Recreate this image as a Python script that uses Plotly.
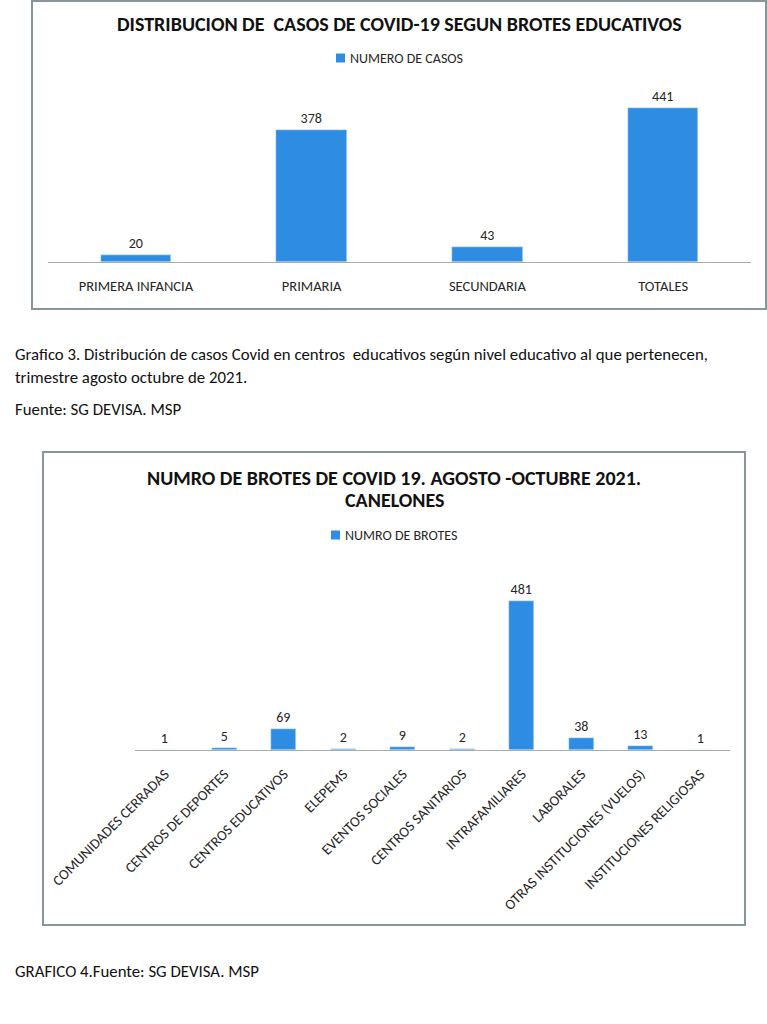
import plotly.graph_objects as go

W, H = 767, 1024

# Chart 1 data
niveles = ["PRIMERA INFANCIA", "PRIMARIA", "SECUNDARIA", "TOTALES"]
casos = [20, 378, 43, 441]

# Chart 2 data
tipos_brote = ["COMUNIDADES CERRADAS", "CENTROS DE DEPORTES", "CENTROS EDUCATIVOS", "ELEPEMS",
               "EVENTOS SOCIALES", "CENTROS SANITARIOS", "INTRAFAMILIARES", "LABORALES",
               "OTRAS INSTITUCIONES (VUELOS)", "INSTITUCIONES RELIGIOSAS"]
brotes = [1, 5, 69, 2, 9, 2, 481, 38, 13, 1]

FONT = "Carlito, 'Liberation Sans Narrow', 'Liberation Sans', sans-serif"
BAR = "#2E8DE3"
TXT = "#262626"
BORDER = "#879797"
AXIS = "#A6ABAB"


def px_x(x):
    return x / W


def px_y(y):
    return 1 - y / H


fig = go.Figure()
fig.add_trace(go.Bar(x=niveles, y=casos, name="NUMERO DE CASOS", marker_color=BAR,
                     width=0.4, text=casos, textposition="outside", cliponaxis=False,
                     textfont=dict(size=14, color=TXT, family=FONT), showlegend=False,
                     xaxis="x", yaxis="y"))
fig.add_trace(go.Bar(x=tipos_brote, y=brotes, name="NUMRO DE BROTES", marker_color=BAR,
                     width=0.42, text=brotes, textposition="outside", cliponaxis=False,
                     textfont=dict(size=14, color=TXT, family=FONT), showlegend=False,
                     xaxis="x2", yaxis="y2"))

axis_common = dict(showgrid=False, zeroline=False, showline=True, linecolor=AXIS, linewidth=1,
                   ticks="", automargin=False,
                   tickfont=dict(size=14.5, color=TXT, family=FONT), fixedrange=True)

fig.update_layout(
    width=W, height=H, margin=dict(l=0, r=0, t=0, b=0, autoexpand=False),
    paper_bgcolor="white", plot_bgcolor="white",
    font=dict(family=FONT, color=TXT),
    bargap=0,
    xaxis=dict(domain=[px_x(48), px_x(751)], anchor="y", ticklabelstandoff=11, **axis_common),
    yaxis=dict(domain=[px_y(262), px_y(87)], range=[0, 500], visible=False, anchor="x", fixedrange=True),
    xaxis2=dict(domain=[px_x(135), px_x(730)], anchor="y2", tickangle=-45, ticklabelstandoff=9,
                **axis_common),
    yaxis2=dict(domain=[px_y(750), px_y(576)], range=[0, 560], visible=False, anchor="x2", fixedrange=True),
    showlegend=False,
)

# Borders
fig.add_shape(type="rect", xref="paper", yref="paper", x0=px_x(32), x1=px_x(766), y0=px_y(309), y1=px_y(1),
              line=dict(color=BORDER, width=2), fillcolor="rgba(0,0,0,0)", layer="below")
fig.add_shape(type="rect", xref="paper", yref="paper", x0=px_x(43), x1=px_x(745), y0=px_y(925), y1=px_y(452),
              line=dict(color=BORDER, width=2), fillcolor="rgba(0,0,0,0)", layer="below")

# Manual legends (small square + label)
for (sx, sy, label) in [(336, 58, "NUMERO DE CASOS"), (331, 535, "NUMRO DE BROTES")]:
    fig.add_shape(type="rect", xref="paper", yref="paper", x0=px_x(sx), x1=px_x(sx + 9),
                  y0=px_y(sy + 4.5), y1=px_y(sy - 4.5), line=dict(width=0), fillcolor=BAR)
    fig.add_annotation(xref="paper", yref="paper", showarrow=False, text=label,
                       x=px_x(sx + 12), y=px_y(sy), xanchor="left", yanchor="middle",
                       font=dict(size=14, color=TXT, family=FONT))

anns = [
    dict(text="<b>DISTRIBUCION DE  CASOS DE COVID-19 SEGUN BROTES EDUCATIVOS</b>", x=px_x(399), y=px_y(24),
         xanchor="center", yanchor="middle", font=dict(size=20, color="#111111", family=FONT)),
    dict(text="<b>NUMRO DE BROTES DE COVID 19. AGOSTO -OCTUBRE 2021.</b>", x=px_x(394), y=px_y(478),
         xanchor="center", yanchor="middle", font=dict(size=20, color="#111111", family=FONT)),
    dict(text="<b>CANELONES</b>", x=px_x(394), y=px_y(500),
         xanchor="center", yanchor="middle", font=dict(size=20, color="#111111", family=FONT)),
    dict(text="Grafico 3. Distribución de casos Covid en centros  educativos según nivel educativo al que pertenecen,",
         x=px_x(13), y=px_y(354), xanchor="left", yanchor="middle", font=dict(size=16.8, color="#111111", family=FONT)),
    dict(text="trimestre agosto octubre de 2021.",
         x=px_x(13), y=px_y(377), xanchor="left", yanchor="middle", font=dict(size=16.8, color="#111111", family=FONT)),
    dict(text="Fuente: SG DEVISA. MSP",
         x=px_x(13), y=px_y(409), xanchor="left", yanchor="middle", font=dict(size=16.8, color="#111111", family=FONT)),
    dict(text="GRAFICO 4.Fuente: SG DEVISA. MSP",
         x=px_x(13), y=px_y(971), xanchor="left", yanchor="middle", font=dict(size=16.8, color="#111111", family=FONT)),
]
for a in anns:
    fig.add_annotation(xref="paper", yref="paper", showarrow=False, **a)

fig.write_html("out.html", config={"displayModeBar": False},
               post_script="document.body.style.margin='0';document.body.style.overflow='hidden';")
